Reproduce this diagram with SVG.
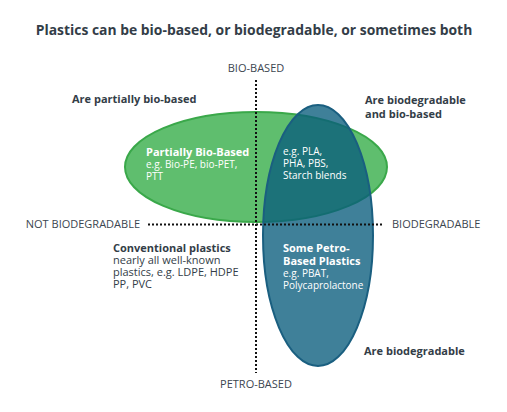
<svg xmlns="http://www.w3.org/2000/svg" width="507" height="412" viewBox="0 0 507 412">
<style>
text{font-family:"Open Sans","Noto Sans","Liberation Sans",sans-serif;fill:#333d47}
.title{font-size:13.9px;font-weight:700}
.ax{font-size:11px;fill:#3c4650}
.q{font-size:11px;font-weight:700}
.h{font-size:11px;font-weight:700}
.b{font-size:10px}
.b2{font-size:11px}
.w{fill:#ffffff}
.axis{stroke:#111;stroke-width:2;stroke-dasharray:2 2;fill:none}
</style>
<rect width="507" height="412" fill="#ffffff"/>
<text class="title" x="254" y="35" text-anchor="middle">Plastics can be bio-based, or biodegradable, or sometimes both</text>
<g id="node-green">
<ellipse cx="256" cy="167" rx="131" ry="55" fill="#5fbe6e" stroke="#3aa84a" stroke-width="2"/>
</g>
<g id="node-blue">
<ellipse cx="318" cy="235.5" rx="55" ry="130.5" fill="#095c7c" fill-opacity="0.78" stroke="#1a5f80" stroke-width="2"/>
</g>
<g id="connectors">
<line class="axis" x1="256" y1="80" x2="256" y2="373"/>
<line class="axis" x1="148" y1="224.5" x2="384" y2="224.5"/>
</g>
<g id="labels-axes">
<text class="ax" x="256" y="72" text-anchor="middle">BIO-BASED</text>
<text class="ax" x="256" y="388" text-anchor="middle">PETRO-BASED</text>
<text class="ax" x="140" y="228" text-anchor="end">NOT BIODEGRADABLE</text>
<text class="ax" x="392" y="228">BIODEGRADABLE</text>
</g>
<g id="quadrant-labels">
<text class="q" x="72" y="103">Are partially bio-based</text>
<text class="q" x="365" y="104">Are biodegradable</text>
<text class="q" x="365" y="118">and bio-based</text>
<text class="q" x="364" y="355">Are biodegradable</text>
</g>
<g id="node-partial">
<text class="h w" x="146" y="156">Partially Bio-Based</text>
<text class="b w" x="146" y="168">e.g. Bio-PE, bio-PET,</text>
<text class="b w" x="146" y="180">PTT</text>
</g>
<g id="node-both">
<text class="b w" x="283" y="155">e.g. PLA,</text>
<text class="b w" x="283" y="167">PHA, PBS,</text>
<text class="b w" x="283" y="179">Starch blends</text>
</g>
<g id="node-conventional">
<text class="h" x="113" y="252">Conventional plastics</text>
<text class="b2" x="113" y="264">nearly all well-known</text>
<text class="b2" x="113" y="276">plastics, e.g. LDPE, HDPE</text>
<text class="b2" x="113" y="288">PP, PVC</text>
</g>
<g id="node-petro">
<text class="h w" x="283" y="252">Some Petro-</text>
<text class="h w" x="283" y="265">Based Plastics</text>
<text class="b w" x="283" y="277">e.g. PBAT,</text>
<text class="b w" x="283" y="289">Polycaprolactone</text>
</g>
</svg>
